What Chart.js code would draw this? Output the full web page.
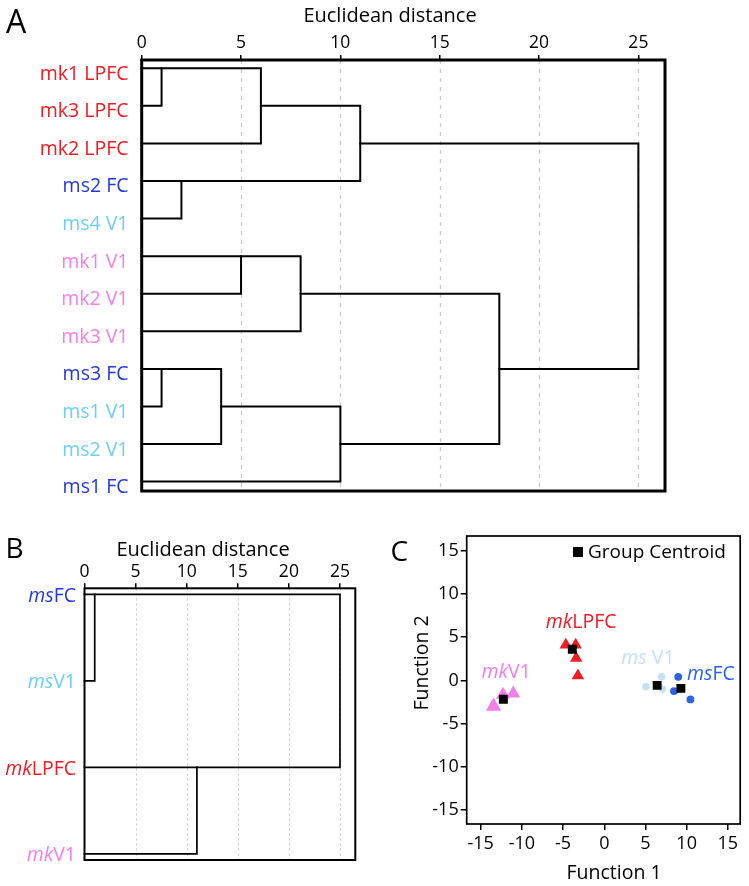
<!DOCTYPE html>
<html><head><meta charset="utf-8">
<script src="https://cdn.jsdelivr.net/npm/chart.js@4.4.1/dist/chart.umd.min.js"></script>
<style>
html,body{margin:0;padding:0;background:#fff;width:749px;height:886px;overflow:hidden;}
.panel{position:absolute;}
</style></head><body>
<div class="panel" style="left:0;top:0;width:749px;height:515px"><canvas id="cA"></canvas></div>
<div class="panel" style="left:0;top:520px;width:375px;height:366px"><canvas id="cB"></canvas></div>
<div class="panel" style="left:375px;top:520px;width:374px;height:366px"><canvas id="cC"></canvas></div>
<script>
// ================= DATA =================
// Panel A: hierarchical clustering of individual samples
const leavesA = ['mk1 LPFC','mk3 LPFC','mk2 LPFC','ms2 FC','ms4 V1','mk1 V1','mk2 V1','mk3 V1','ms3 FC','ms1 V1','ms2 V1','ms1 FC'];
const groupsA = ['mkLPFC','mkLPFC','mkLPFC','msFC','msV1','mkV1','mkV1','mkV1','msFC','msV1','msV1','msFC'];
// merges: cluster ids 0..11 are leaves, merge k creates cluster 12+k
const mergeLeftA  = [0, 12, 3, 13, 5, 16, 8, 18, 19, 17, 15];
const mergeRightA = [1, 2, 4, 14, 6, 7, 9, 10, 11, 20, 21];
const mergeDistA  = [1, 6, 2, 11, 5, 8, 1, 4, 10, 18, 25];
const ticksA = [0, 5, 10, 15, 20, 25];

// Panel B: group-level clustering
const prefixB = ['ms', 'ms', 'mk', 'mk'];
const regionB = ['FC', 'V1', 'LPFC', 'V1'];
const groupsB = ['msFC', 'msV1', 'mkLPFC', 'mkV1'];
const mergeLeftB  = [0, 2, 4];
const mergeRightB = [1, 3, 5];
const mergeDistB  = [1, 11, 25];
const ticksB = [0, 5, 10, 15, 20, 25];

// Panel C: discriminant function scores
const mkV1X   = [-13.45, -12.3, -11.05];
const mkV1Y   = [-3.0, -1.65, -1.5];
const mkLPFCX = [-4.67, -3.47, -3.41, -3.2];
const mkLPFCY = [4.1, 4.1, 2.58, 0.55];
const msV1X   = [5.05, 6.95, 7.05];
const msV1Y   = [-0.73, 0.42, -1.0];
const msFCX   = [8.98, 8.46, 10.46];
const msFCY   = [0.42, -1.23, -2.2];
const centroidX = [-12.25, -3.88, 6.42, 9.3];
const centroidY = [-2.18, 3.6, -0.57, -0.92];
const ticksC = [-15, -10, -5, 0, 5, 10, 15];
const groupLabelPrefixC = ['mk', 'mk', 'ms', 'ms'];
const groupLabelRegionC = ['LPFC', 'V1', ' V1', 'FC'];
const groupLabelGroupC  = ['mkLPFC', 'mkV1', 'msV1', 'msFC'];
const groupLabelXC = [-2.8, -11.9, 5.3, 12.95];
const groupLabelYC = [6.7, 0.95, 2.5, 0.75];

// ================= STYLE =================
const FONT = '"Open Sans", "DejaVu Sans", sans-serif';
const COLORS  = {mkLPFC:'#ee1c25', msFC:'#2339da', msV1:'#6ccff6', mkV1:'#f47fe8'};
const COLORSC = {mkLPFC:'#ee1c25', msFC:'#2b62e6', msV1:'#c3e2f7', mkV1:'#f27ee9'};

function buildDendro(nLeaves, L, R, D) {
  const pos = [], h = [];
  for (let i = 0; i < nLeaves; i++) { pos.push(i); h.push(0); }
  const segs = [];
  for (let k = 0; k < L.length; k++) {
    const a = L[k], b = R[k], d = D[k];
    segs.push([{x:h[a], y:pos[a]}, {x:d, y:pos[a]}, {x:d, y:pos[b]}, {x:h[b], y:pos[b]}]);
    pos.push(Math.floor((pos[a] + pos[b]) / 2));
    h.push(d);
  }
  return segs;
}
function zip(xs, ys) { return xs.map((x, i) => ({x, y: ys[i]})); }

function drawParts(ctx, parts, x, y, align, size, color) {
  const widths = parts.map(([t, it]) => { ctx.font = (it ? 'italic ' : '') + size + 'px ' + FONT; return ctx.measureText(t).width; });
  const total = widths.reduce((a, b) => a + b, 0);
  let sx = align === 'right' ? x - total : align === 'center' ? x - total / 2 : x;
  ctx.fillStyle = color; ctx.textAlign = 'left';
  parts.forEach(([t, it], i) => { ctx.font = (it ? 'italic ' : '') + size + 'px ' + FONT; ctx.fillText(t, sx, y); sx += widths[i]; });
}

function dendroPlugin(o) {
  return {
    id: 'deco' + o.name,
    beforeDatasetsDraw(chart) {
      const {ctx, chartArea: a, scales: {x}} = chart;
      ctx.save();
      ctx.strokeStyle = o.gridColor; ctx.lineWidth = o.gridWidth; ctx.setLineDash(o.dash);
      o.ticks.forEach(v => {
        if (v === 0) return;
        const px = Math.round(x.getPixelForValue(v)) + 0.5;
        ctx.beginPath(); ctx.moveTo(px, a.top); ctx.lineTo(px, a.bottom); ctx.stroke();
      });
      ctx.restore();
    },
    afterDatasetsDraw(chart) {
      const {ctx, chartArea: a} = chart;
      ctx.save();
      ctx.strokeStyle = '#000'; ctx.lineWidth = o.boxWidth; ctx.lineJoin = 'miter';
      ctx.strokeRect(a.left, a.top, a.right - a.left, a.bottom - a.top);
      ctx.restore();
    },
    afterDraw(chart) {
      const {ctx, scales: {y}} = chart;
      ctx.save();
      ctx.textBaseline = 'alphabetic';
      o.labels.forEach((parts, i) => {
        drawParts(ctx, parts, o.labelRight, y.getPixelForValue(i) + o.labelDy, 'right', o.labelSize, o.labelColors[i]);
      });
      ctx.fillStyle = '#000'; ctx.textAlign = 'center';
      ctx.font = o.titleSize + 'px ' + FONT;
      ctx.fillText('Euclidean distance', o.titleX, o.titleY);
      ctx.textAlign = 'left';
      ctx.font = o.letterSize + 'px ' + FONT;
      ctx.fillText(o.letter, o.letterX, o.letterY);
      ctx.restore();
    }
  };
}

function dendroChart(id, segs, lw, xmax, ymin, ymax, pad, axisH, ticks, plugin) {
  return new Chart(document.getElementById(id), {
    type: 'line',
    data: { datasets: segs.map(p => ({ data: p, borderColor: '#000', borderWidth: lw, pointRadius: 0, pointHoverRadius: 0,
      tension: 0, fill: false, borderJoinStyle: 'miter', borderCapStyle: 'square', clip: 6 })) },
    options: {
      responsive: true, maintainAspectRatio: false, animation: false, events: [],
      layout: { padding: pad },
      plugins: { legend: { display: false }, tooltip: { enabled: false } },
      scales: {
        x: { type: 'linear', position: 'top', min: 0, max: xmax,
          afterBuildTicks: s => { s.ticks = ticks.map(v => ({value: v})); },
          afterFit: s => { s.height = axisH; },
          grid: { display: true, drawOnChartArea: false, drawTicks: true, tickLength: 5, color: '#000', lineWidth: 1.5 },
          border: { display: false },
          ticks: { font: { family: FONT, size: 17.5 }, color: '#000', padding: 1, maxRotation: 0, autoSkip: false,
                   callback: v => String(v) } },
        y: { type: 'linear', display: false, reverse: true, min: ymin, max: ymax }
      }
    },
    plugins: [plugin]
  });
}

// ---------- Panel A ----------
dendroChart('cA', buildDendro(leavesA.length, mergeLeftA, mergeRightA, mergeDistA), 2, 26.34, -0.22, 11.25,
  {left: 141.7, right: 84, top: 0, bottom: 24}, 60, ticksA,
  dendroPlugin({ name: 'A', ticks: ticksA, gridColor: '#c5cfcd', gridWidth: 1.3, dash: [4, 5], boxWidth: 3,
    labels: leavesA.map(t => [[t, false]]), labelColors: groupsA.map(g => COLORS[g]),
    labelRight: 128.5, labelDy: 11.5, labelSize: 19.5,
    titleX: 390, titleY: 22.3, titleSize: 20, letter: 'A', letterX: 6, letterY: 33.3, letterSize: 32 }));

// ---------- Panel B ----------
dendroChart('cB', buildDendro(prefixB.length, mergeLeftB, mergeRightB, mergeDistB), 1.7, 26.5, -0.07, 3.07,
  {left: 84.5, right: 19.7, top: 0, bottom: 26}, 68.3, ticksB,
  dendroPlugin({ name: 'B', ticks: ticksB, gridColor: '#cdd3d3', gridWidth: 1.1, dash: [2.5, 2.5], boxWidth: 2,
    labels: prefixB.map((p, i) => [[p, true], [regionB[i], false]]), labelColors: groupsB.map(g => COLORS[g]),
    labelRight: 76, labelDy: 7.5, labelSize: 19.5,
    titleX: 203, titleY: 36, titleSize: 20, letter: 'B', letterX: 5.5, letterY: 38.3, letterSize: 28 }));

// ---------- Panel C ----------
const decoC = {
  id: 'decoC',
  afterDatasetsDraw(chart) {
    const {ctx, chartArea: a, scales: {x, y}} = chart;
    ctx.save();
    ctx.strokeStyle = '#000'; ctx.lineWidth = 1.7;
    ctx.strokeRect(a.left, a.top, a.right - a.left, a.bottom - a.top);
    ctx.textBaseline = 'middle';
    groupLabelPrefixC.forEach((p, i) => {
      drawParts(ctx, [[p, true], [groupLabelRegionC[i], false]], x.getPixelForValue(groupLabelXC[i]),
        y.getPixelForValue(groupLabelYC[i]), 'center', 19.5, COLORSC[groupLabelGroupC[i]]);
    });
    // legend
    ctx.fillStyle = '#000';
    ctx.fillRect(198, 27, 10, 10);
    ctx.textBaseline = 'alphabetic'; ctx.textAlign = 'left';
    ctx.font = '19px ' + FONT;
    ctx.fillText('Group Centroid', 213, 37.5);
    // axis titles
    ctx.font = '19.5px ' + FONT; ctx.textAlign = 'center';
    ctx.fillText('Function 1', 239, 359.3);
    ctx.save(); ctx.translate(53, 143); ctx.rotate(-Math.PI / 2);
    ctx.fillText('Function 2', 0, 0); ctx.restore();
    // letter
    ctx.textAlign = 'left'; ctx.font = '28px ' + FONT;
    ctx.fillText('C', 15.5, 40.7);
    ctx.restore();
  }
};
new Chart(document.getElementById('cC'), {
  type: 'scatter',
  data: { datasets: [
    { label: 'Group Centroid', data: zip(centroidX, centroidY), pointStyle: 'rect', pointRadius: 6.3, backgroundColor: '#000', borderWidth: 0, order: 0 },
    { label: 'mkLPFC', data: zip(mkLPFCX, mkLPFCY), pointStyle: 'triangle', pointRadius: 7.2, backgroundColor: COLORSC.mkLPFC, borderWidth: 0, order: 1 },
    { label: 'mkV1', data: zip(mkV1X, mkV1Y), pointStyle: 'triangle', pointRadius: c => c.dataIndex === 0 ? 8.8 : 8, backgroundColor: COLORSC.mkV1, borderWidth: 0, order: 2 },
    { label: 'msV1', data: zip(msV1X, msV1Y), pointStyle: 'circle', pointRadius: 3.8, backgroundColor: COLORSC.msV1, borderWidth: 0, order: 3 },
    { label: 'msFC', data: zip(msFCX, msFCY), pointStyle: 'circle', pointRadius: 3.9, backgroundColor: COLORSC.msFC, borderWidth: 0, order: 4 }
  ] },
  options: {
    responsive: true, maintainAspectRatio: false, animation: false, events: [],
    layout: { padding: { left: 0, right: 6.3, top: 16, bottom: 0 } },
    plugins: { legend: { display: false }, tooltip: { enabled: false } },
    scales: {
      x: { type: 'linear', position: 'bottom', min: -16.7, max: 16.5,
        afterBuildTicks: s => { s.ticks = ticksC.map(v => ({value: v})); },
        afterFit: s => { s.height = 62; },
        grid: { display: true, drawOnChartArea: false, drawTicks: true, tickLength: 6, color: '#000', lineWidth: 1.5 },
        border: { display: false },
        ticks: { font: { family: FONT, size: 18 }, color: '#000', padding: 3, maxRotation: 0, autoSkip: false, callback: v => String(v) } },
      y: { type: 'linear', position: 'left', min: -16.6, max: 16.7,
        afterBuildTicks: s => { s.ticks = ticksC.map(v => ({value: v})); },
        afterFit: s => { s.width = 91.7; },
        grid: { display: true, drawOnChartArea: false, drawTicks: true, tickLength: 6, color: '#000', lineWidth: 1.5 },
        border: { display: false },
        ticks: { font: { family: FONT, size: 18 }, color: '#000', padding: 2, autoSkip: false, callback: v => String(v) } }
    }
  },
  plugins: [decoC]
});
</script>
</body></html>
